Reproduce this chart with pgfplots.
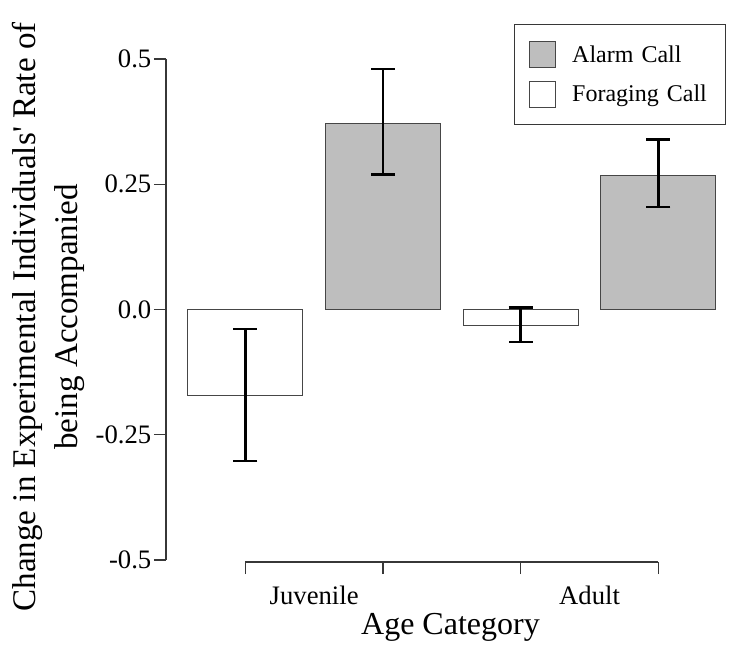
\documentclass[border=0pt]{standalone}
\usepackage{fontspec}
\setmainfont{Liberation Serif}
\usepackage{pgfplots}
\pgfplotsset{compat=1.18}
\usepackage{pgfplotstable}
\definecolor{barfill}{RGB}{190,190,190}
\definecolor{edge}{RGB}{70,70,70}
\definecolor{axc}{RGB}{55,55,55}
\pgfplotsset{sqlegend/.style={legend image code/.code={\draw[##1] (0pt,-9.75pt) rectangle (19.5pt,9.75pt);}}}

\pgfplotstableread{
x y ep em
2 0.372 0.108 0.102
4 0.268 0.071 0.063
}\alarm
\pgfplotstableread{
x y ep em
1 -0.172 0.133 0.130
3 -0.032 0.036 0.033
}\forage

\begin{document}
\begin{tikzpicture}
\begin{axis}[
  scale only axis, width=426.75pt, height=417.75pt,
  xmin=0.424, xmax=4.556, ymin=-0.504, ymax=0.6078,
  axis x line=bottom, axis y line=left,
  axis line style={draw=none,-},
  clip=false,
  tick align=outside, major tick length=9pt,
  tick style={axc, line width=0.9pt},
  xtick={1,2,3,4}, xticklabels={},
  extra x ticks={1.5,3.5}, extra x tick labels={Juvenile,Adult},
  extra x tick style={major tick length=0pt, xticklabel style={anchor=base, yshift=-32pt}},
  ytick={-0.5,-0.25,0,0.25,0.5}, yticklabels={-0.5,-0.25,0.0,0.25,0.5},
  ticklabel style={font=\fontsize{20}{24}\selectfont},
  yticklabel style={xshift=1.5pt},
  /pgf/number format/assume math mode=true,
  xlabel={Age Category},
  xlabel style={at={(axis description cs:0.5,-0.1293)}, anchor=base, font=\fontsize{24}{28}\selectfont},
  ylabel={Change in Experimental Individuals\textquotesingle{} Rate of\\being Accompanied},
  ylabel style={at={(axis description cs:-0.2065,0.4400)}, anchor=center, align=center, font=\fontsize{24.8}{32}\selectfont},
  legend cell align=left,
  legend style={at={(axis description cs:0.6116,0.9659)}, anchor=north west,
    draw=axc, line width=0.9pt, fill=white, inner xsep=11pt, inner ysep=7.8pt,
    row sep=0pt, column sep=12pt, font=\fontsize{18}{22}\selectfont,
    nodes={inner sep=0pt, text width=104pt, minimum height=29.6pt, align=left}},
]
\path (axis cs:-0.7814,0.6178) rectangle (axis cs:4.5853,-0.6617);
\draw[axc, line width=0.9pt] (axis cs:0.424,-0.5) -- (axis cs:0.424,0.5);
\draw[axc, line width=0.9pt] (axis cs:1,-0.504) -- (axis cs:4,-0.504);

\addplot[ybar, bar width=0.835, bar shift=0pt, fill=barfill, draw=edge, line width=0.75pt, sqlegend,
  error bars/.cd, y dir=both, y explicit,
  error bar style={black, line width=1.9pt},
  error mark options={rotate=90, black, mark size=9pt, line width=1.9pt}]
  table[x=x, y=y, y error plus=ep, y error minus=em] {\alarm};
\addlegendentry{Alarm Call}

\addplot[ybar, bar width=0.835, bar shift=0pt, fill=white, draw=edge, line width=0.75pt, sqlegend,
  error bars/.cd, y dir=both, y explicit,
  error bar style={black, line width=1.9pt},
  error mark options={rotate=90, black, mark size=9pt, line width=1.9pt}]
  table[x=x, y=y, y error plus=ep, y error minus=em] {\forage};
\addlegendentry{Foraging Call}
\end{axis}
\end{tikzpicture}
\end{document}
